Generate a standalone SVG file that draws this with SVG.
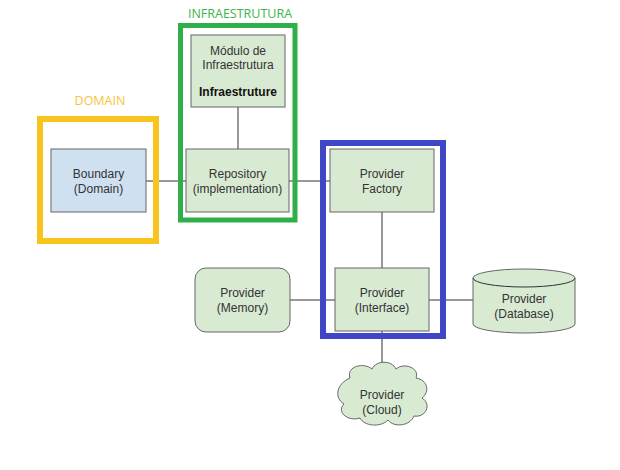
<svg xmlns="http://www.w3.org/2000/svg" width="620" height="470" viewBox="0 0 620 470">
<style>
.box{fill:#d9ead3;stroke:#666;stroke-width:1}
.t{font-family:"Liberation Sans",Arial,sans-serif;font-size:12px;fill:#333;text-anchor:middle}
.b{font-weight:bold;fill:#111}
.c{stroke:#333;stroke-width:1;fill:none}
.lbl{font-family:"Open Sans","Liberation Sans",sans-serif;font-size:12.5px;text-anchor:middle}
</style>
<rect width="620" height="470" fill="#fff"/>
<g id="connectors">
<line class="c" x1="146" y1="181" x2="186" y2="181"/>
<line class="c" x1="289" y1="181" x2="330" y2="181"/>
<line class="c" x1="238" y1="107" x2="238" y2="149"/>
<line class="c" x1="382" y1="212" x2="382" y2="268"/>
<line class="c" x1="290" y1="300" x2="335" y2="300"/>
<line class="c" x1="429" y1="300" x2="473" y2="300"/>
<line class="c" x1="382" y1="331" x2="382" y2="370"/>
</g>
<g id="domain-frame">
<rect x="40" y="119" width="116" height="122" fill="none" stroke="#f7c51e" stroke-width="6"/>
<text class="lbl" x="100" y="105" fill="#f5c540">DOMAIN</text>
</g>
<g id="infra-frame">
<rect x="180.5" y="25.5" width="114.5" height="194.5" fill="none" stroke="#2fae4a" stroke-width="5"/>
<text class="lbl" x="240" y="18" fill="#3cb54a">INFRAESTRUTURA</text>
</g>
<g id="boundary">
<rect x="51" y="149" width="95" height="63" fill="#cfe0f1" stroke="#666"/>
<text class="t" x="98.5" y="178">Boundary</text>
<text class="t" x="98.5" y="193">(Domain)</text>
</g>
<g id="modulo">
<rect class="box" x="191" y="35" width="94" height="72"/>
<text class="t" x="238" y="55">Módulo de</text>
<text class="t" x="238" y="69">Infraestrutura</text>
<text class="t b" x="238" y="96">Infraestruture</text>
</g>
<g id="repository">
<rect class="box" x="186" y="149" width="103" height="63"/>
<text class="t" x="237.5" y="178">Repository</text>
<text class="t" x="237.5" y="193">(implementation)</text>
</g>
<g id="provider-frame">
<rect x="323" y="143" width="120" height="193" fill="none" stroke="#3f47c6" stroke-width="6"/>
</g>
<g id="factory">
<rect class="box" x="330" y="149" width="104" height="63"/>
<text class="t" x="382" y="178">Provider</text>
<text class="t" x="382" y="193">Factory</text>
</g>
<g id="interface">
<rect class="box" x="335" y="268" width="94" height="63"/>
<text class="t" x="382" y="297">Provider</text>
<text class="t" x="382" y="312">(Interface)</text>
</g>
<g id="memory">
<rect class="box" x="195" y="268" width="95" height="64" rx="11"/>
<text class="t" x="242.5" y="297">Provider</text>
<text class="t" x="242.5" y="312">(Memory)</text>
</g>
<g id="database">
<path class="box" d="M473,278 A51,9 0 0 1 575,278 V324 A51,9 0 0 1 473,324 Z"/>
<path class="c" d="M473,278 A51,9 0 0 0 575,278" stroke="#666"/>
<text class="t" x="524" y="303">Provider</text>
<text class="t" x="524" y="318">(Database)</text>
</g>
<g id="cloud">
<path class="box" d="M350,378 C346,366 364,362 372,369 C376,360 392,360 396,369 C404,362 420,368 416,378 C428,380 430,392 422,398 C432,404 426,418 414,416 C410,426 394,428 388,420 C380,428 364,426 360,418 C348,422 336,412 344,404 C334,398 336,384 350,378 Z"/>
<text class="t" x="382" y="399">Provider</text>
<text class="t" x="382" y="414">(Cloud)</text>
</g>
</svg>
